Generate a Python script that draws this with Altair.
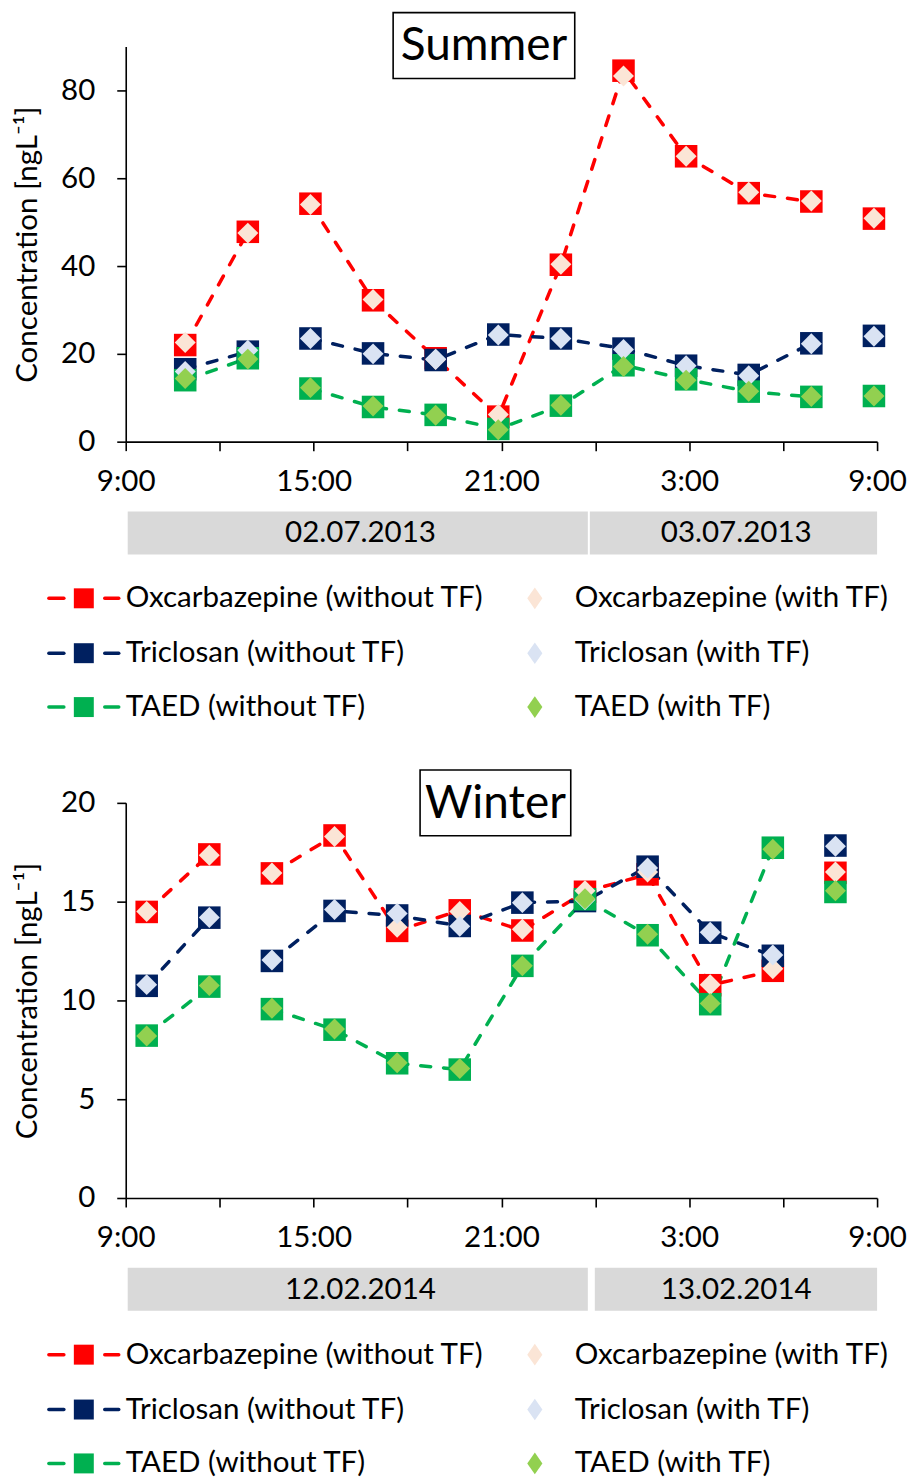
import altair as alt
import pandas as pd

FONT = "Lato"
FS = 29.6

COMPOUNDS = ["Oxcarbazepine", "Triclosan", "TAED"]
DARK = ["#FF0000", "#002060", "#00B050"]      # without trickling filter
LIGHT = ["#FBE5D6", "#DAE3F3", "#92D050"]     # with trickling filter

# line segment per sampling slot (no line across a skipped sample)
RUNS = [0, 0, 1, 1, 1, 1, 1, 1, 1, 1, 1, 2]

# ---- Summer campaign, 02.07.2013 - 03.07.2013 (hours after midnight of day 1)
summer_hours = [10.9, 12.9, 14.9, 16.9, 18.9, 20.9, 22.9, 24.9, 26.9, 28.9, 30.9, 32.9]
summer_oxc_without = [22.0, 47.8, 54.2, 32.2, 19.0, 5.7, 40.3, 84.5, 65.0, 56.6, 54.7, 50.8]
summer_oxc_with = [22.6, 47.5, 54.0, 32.4, 18.7, 6.2, 40.4, 83.3, 65.0, 56.8, 54.8, 50.9]
summer_tric_without = [16.5, 20.5, 23.5, 20.1, 18.6, 24.4, 23.5, 21.2, 17.3, 15.2, 22.4, 24.1]
summer_tric_with = [16.0, 20.8, 23.5, 20.0, 18.8, 24.3, 23.5, 21.0, 17.3, 15.0, 22.3, 24.0]
summer_taed_without = [14.0, 19.0, 12.1, 7.9, 6.1, 2.9, 8.2, 17.4, 14.2, 11.4, 10.2, 10.4]
summer_taed_with = [14.4, 18.8, 12.3, 8.1, 6.0, 2.7, 8.3, 17.1, 14.0, 11.5, 10.3, 10.4]
summer_days = ["02.07.2013", "03.07.2013"]

# ---- Winter campaign, 12.02.2014 - 13.02.2014
winter_hours = [9.67, 11.67, 13.67, 15.67, 17.67, 19.67, 21.67, 23.67, 25.67, 27.67, 29.67, 31.67]
winter_oxc_without = [14.48, 17.39, 16.43, 18.35, 13.52, 14.56, 13.54, 15.5, 16.38, 10.77, 11.5, 16.46]
winter_oxc_with = [14.5, 17.35, 16.45, 18.3, 13.7, 14.5, 13.6, 15.55, 16.5, 10.8, 11.6, 16.5]
winter_tric_without = [10.74, 14.19, 12.0, 14.53, 14.3, 13.77, 14.95, 15.03, 16.77, 13.43, 12.26, 17.84]
winter_tric_with = [10.8, 14.2, 12.05, 14.6, 14.4, 13.75, 14.95, 15.1, 16.7, 13.45, 12.3, 17.8]
winter_taed_without = [8.22, 10.7, 9.56, 8.52, 6.82, 6.5, 11.75, 15.12, 13.3, 9.81, 17.73, 15.49]
winter_taed_with = [8.2, 10.75, 9.6, 8.55, 6.85, 6.55, 11.75, 15.15, 13.35, 9.85, 17.65, 15.55]
winter_days = ["12.02.2014", "13.02.2014"]

day_start = [9, 24]
day_end = [24, 33]
hour_ticks = list(range(9, 34, 3))

PLOT_W = 753
PLOT_H = 396


def long_table(hours, series):
    rows = []
    for comp, vals in zip(COMPOUNDS, series):
        for i, (h, v) in enumerate(zip(hours, vals)):
            rows.append({"compound": comp, "hour": h, "conc": v, "run": RUNS[i]})
    return pd.DataFrame(rows)


ONE = pd.DataFrame({"k": [0]})

X_AXIS = alt.Axis(values=hour_ticks, labelFlush=False, labelOverlap=False,
                  labelExpr="(datum.value - 9) % 6 == 0 ? (datum.value % 24) + ':00' : ''",
                  labelPadding=17)
X_SCALE = alt.Scale(domain=[9, 33], nice=False, zero=False)


def season(name, hours, without, withtf, ymax, ystep, days, box, bottom, second_day_inset):
    df_wo = long_table(hours, without)
    df_w = long_table(hours, withtf)
    df_days = pd.DataFrame({"start": day_start, "end": day_end, "label": days})
    df_days["mid"] = (df_days["start"] + df_days["end"]) / 2

    xenc = alt.X("hour:Q", title=None, scale=X_SCALE, axis=X_AXIS)
    yenc = alt.Y(
        "conc:Q", title="Concentration [ngL⁻¹]",
        scale=alt.Scale(domain=[0, ymax], nice=False),
        axis=alt.Axis(values=list(range(0, ymax + 1, ystep)), labelPadding=22, titlePadding=18),
    )

    # transparent frame: fixes the panel's outer extent
    frame = alt.Chart(ONE).mark_rect(fill="white", opacity=0).encode(
        x=alt.value(-125), x2=alt.value(787), y=alt.value(-44), y2=alt.value(bottom))

    bx0, bx1, by0, by1 = box
    title_box = alt.Chart(ONE).mark_rect(fill="white", stroke="black", strokeWidth=1.6).encode(
        x=alt.value(bx0), x2=alt.value(bx1), y=alt.value(by0), y2=alt.value(by1))
    title_text = alt.Chart(ONE).mark_text(text=name, fontSize=46, font=FONT, baseline="middle",
                                          align="center", color="black").encode(
        x=alt.value((bx0 + bx1) / 2), y=alt.value((by0 + by1) / 2 + 1))

    # grey date cells under the time axis
    day_x = alt.X("start:Q", title=None, scale=X_SCALE, axis=X_AXIS)
    day_bar1 = alt.Chart(df_days).transform_filter("datum.start < 24").mark_rect(
        color="#D9D9D9", xOffset=2, x2Offset=-7.5).encode(
        x=day_x, x2="end:Q", y=alt.value(466), y2=alt.value(509))
    day_bar2 = alt.Chart(df_days).transform_filter("datum.start >= 24").mark_rect(
        color="#D9D9D9", xOffset=second_day_inset).encode(
        x=day_x, x2="end:Q", y=alt.value(466), y2=alt.value(509))
    day_text = alt.Chart(df_days).mark_text(fontSize=FS, font=FONT, baseline="middle",
                                            color="black").encode(
        x=alt.X("mid:Q", title=None, scale=X_SCALE, axis=X_AXIS), y=alt.value(488), text="label:N")

    dark = alt.Color("compound:N", scale=alt.Scale(domain=COMPOUNDS, range=DARK), legend=None)
    light = alt.Color("compound:N", scale=alt.Scale(domain=COMPOUNDS, range=LIGHT), legend=None)

    lines = alt.Chart(df_wo).mark_line(strokeWidth=3.5, strokeDash=[10, 13], strokeCap="round").encode(
        x=xenc, y=yenc, color=dark, detail="run:N", order="hour:Q")
    squares = alt.Chart(df_wo).mark_point(shape="square", filled=True, size=510, opacity=1).encode(
        x=xenc, y=yenc, color=dark)
    diamonds = alt.Chart(df_w).mark_point(shape="diamond", filled=True, size=440, opacity=1).encode(
        x=xenc, y=yenc, color=light)

    # hand-built legend below the date cells
    leg = []
    row_y = [553, 608, 662]
    for i, comp in enumerate(COMPOUNDS):
        yv = row_y[i]
        for x0, x1 in [(-77, -62), (-21, -7)]:
            leg.append(alt.Chart(ONE).mark_rule(color=DARK[i], strokeWidth=3.5, strokeCap="round").encode(
                x=alt.value(x0), x2=alt.value(x1), y=alt.value(yv)))
        leg.append(alt.Chart(ONE).mark_point(shape="square", filled=True, size=400, opacity=1,
                                             color=DARK[i]).encode(x=alt.value(-42), y=alt.value(yv)))
        leg.append(alt.Chart(ONE).mark_text(text=f"{comp} (without TF)", fontSize=FS, font=FONT,
                                            align="left", baseline="middle", color="black").encode(
            x=alt.value(0), y=alt.value(yv)))
        leg.append(alt.Chart(ONE).mark_point(shape="M0,-1L0.7,0L0,1L-0.7,0Z", filled=True, size=470,
                                             opacity=1, color=LIGHT[i]).encode(
            x=alt.value(410), y=alt.value(yv)))
        leg.append(alt.Chart(ONE).mark_text(text=f"{comp} (with TF)", fontSize=FS, font=FONT,
                                            align="left", baseline="middle", color="black").encode(
            x=alt.value(450), y=alt.value(yv)))

    return alt.layer(frame, title_box, title_text, day_bar1, day_bar2, day_text,
                     lines, squares, diamonds, *leg).resolve_scale(
        color="independent").properties(width=PLOT_W, height=PLOT_H)


summer = season(
    "Summer", summer_hours,
    [summer_oxc_without, summer_tric_without, summer_taed_without],
    [summer_oxc_with, summer_tric_with, summer_taed_with],
    90, 20, summer_days, (268, 450, -34, 32), 712, -5.5)

winter = season(
    "Winter", winter_hours,
    [winter_oxc_without, winter_tric_without, winter_taed_without],
    [winter_oxc_with, winter_tric_with, winter_taed_with],
    20, 5, winter_days, (295, 446, -33, 33), 679, -0.5)

chart = alt.vconcat(summer, winter, spacing=0).properties(padding=0).configure_view(
    stroke="transparent"
).configure_axis(
    grid=False, domainColor="black", domainWidth=1.6, tickColor="black", tickWidth=1.6, tickSize=9,
    labelColor="black", labelFont=FONT, labelFontSize=FS, titleFont=FONT, titleFontSize=FS,
    titleFontWeight="normal", titleColor="black",
).configure_text(font=FONT)

chart.save("out.html", embed_options={"renderer": "svg", "actions": False})
